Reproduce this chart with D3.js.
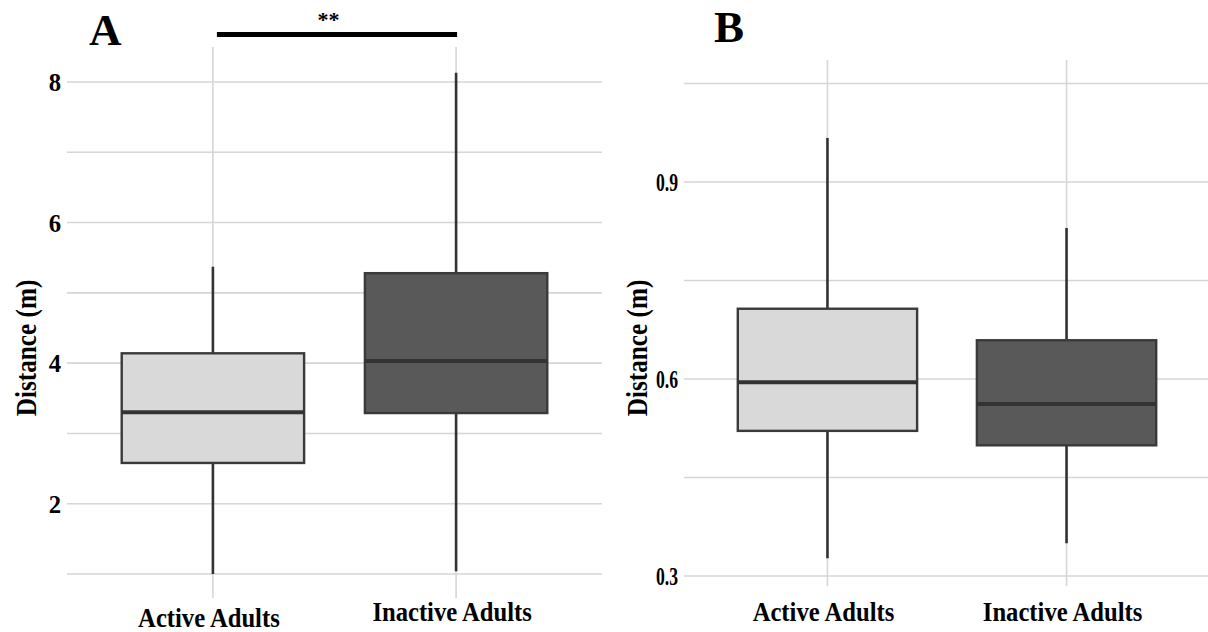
<!DOCTYPE html>
<html>
<head>
<meta charset="utf-8">
<script src="https://cdn.jsdelivr.net/npm/d3@7"></script>
<style>
  html, body { margin: 0; padding: 0; background: #ffffff; }
  svg { display: block; }
  text { font-family: "Liberation Serif", "Times New Roman", serif; font-weight: bold; fill: #000; }
</style>
</head>
<body>
<svg id="chart" width="1208" height="632"></svg>
<script>
// ---------------- data ----------------
const groups = ["Active Adults", "Inactive Adults"];
const fills = ["#d9d9d9", "#595959"];

// Panel A: distance (m) — [whiskerLow, q1, median, q3, whiskerHigh]
const panelA_low    = [1.00, 1.04];
const panelA_q1     = [2.58, 3.29];
const panelA_median = [3.30, 4.03];
const panelA_q3     = [4.14, 5.28];
const panelA_high   = [5.37, 8.13];
const panelA_ticks  = [2, 4, 6, 8];
const panelA_grid   = [1, 2, 3, 4, 5, 6, 7, 8];

// Panel B: distance (m)
const panelB_low    = [0.327, 0.350];
const panelB_q1     = [0.521, 0.499];
const panelB_median = [0.595, 0.562];
const panelB_q3     = [0.707, 0.659];
const panelB_high   = [0.967, 0.830];
const panelB_ticks  = [0.3, 0.6, 0.9];
const panelB_grid   = [0.3, 0.45, 0.6, 0.75, 0.9, 1.05];

const yTitle = "Distance (m)";
const sigLabel = "**";

// ---------------- drawing ----------------
const svg = d3.select("#chart");

function panel(cfg) {
  const g = svg.append("g");
  const x = d3.scalePoint().domain(groups).range(cfg.xRange).padding(0.6);
  const y = d3.scaleLinear().domain(cfg.yDomain).range(cfg.yRange);
  const bw = x.step() * 0.75;

  // horizontal grid
  g.selectAll("line.hg").data(cfg.grid).enter().append("line")
    .attr("x1", cfg.xRange[0]).attr("x2", cfg.gridRight)
    .attr("y1", d => y(d)).attr("y2", d => y(d))
    .attr("stroke", "#d6d6d6").attr("stroke-width", 1.6);
  // vertical grid
  g.selectAll("line.vg").data(groups).enter().append("line")
    .attr("x1", d => x(d)).attr("x2", d => x(d))
    .attr("y1", cfg.vTop).attr("y2", cfg.vBottom)
    .attr("stroke", "#d6d6d6").attr("stroke-width", 1.6);

  const stats = groups.map((k, i) => ({
    k, i, low: cfg.low[i], q1: cfg.q1[i], med: cfg.med[i], q3: cfg.q3[i], high: cfg.high[i]
  }));

  // whiskers
  g.selectAll("line.wh").data(stats).enter().append("line")
    .attr("x1", d => x(d.k)).attr("x2", d => x(d.k))
    .attr("y1", d => y(d.low)).attr("y2", d => y(d.high))
    .attr("stroke", "#333333").attr("stroke-width", 2.6);
  // boxes
  g.selectAll("rect.box").data(stats).enter().append("rect")
    .attr("x", d => x(d.k) - bw / 2).attr("width", bw)
    .attr("y", d => y(d.q3)).attr("height", d => y(d.q1) - y(d.q3))
    .attr("fill", d => fills[d.i]).attr("stroke", "#3a3a3a").attr("stroke-width", 2.4);
  // medians
  g.selectAll("line.med").data(stats).enter().append("line")
    .attr("x1", d => x(d.k) - bw / 2).attr("x2", d => x(d.k) + bw / 2)
    .attr("y1", d => y(d.med)).attr("y2", d => y(d.med))
    .attr("stroke", "#333333").attr("stroke-width", 4);

  // y tick labels
  g.selectAll("text.yt").data(cfg.ticks).enter().append("text")
    .attr("transform", d => `translate(${cfg.xRange[0] - 6},${y(d) + 9}) scale(${cfg.tickScale},1)`)
    .attr("text-anchor", "end").attr("font-size", 26)
    .text(d => cfg.tickFmt(d));

  // x labels
  g.selectAll("text.xl").data(groups).enter().append("text")
    .attr("transform", (d, i) => `translate(${x(d) - 4},${cfg.xLabelY[i]}) scale(0.88,1)`)
    .attr("text-anchor", "middle").attr("font-size", 28)
    .text(d => d);

  // y title
  g.append("text")
    .attr("transform", `translate(${cfg.titleX},348) rotate(-90) scale(0.87,1)`)
    .attr("text-anchor", "middle").attr("font-size", 29)
    .text(yTitle);

  // panel letter
  g.append("text")
    .attr("x", cfg.letterX).attr("y", cfg.letterY)
    .attr("font-size", 45)
    .text(cfg.letter);

  return { x, y };
}

const A = panel({
  xRange: [67, 602], gridRight: 602, yDomain: [1, 8], yRange: [574, 82],
  vTop: 47, vBottom: 598, grid: panelA_grid, ticks: panelA_ticks,
  low: panelA_low, q1: panelA_q1, med: panelA_median, q3: panelA_q3, high: panelA_high,
  tickScale: 0.95, tickFmt: d3.format("d"), xLabelY: [627, 621], titleX: 36,
  letter: "A", letterX: 89, letterY: 45
});

const B = panel({
  xRange: [684, 1210], gridRight: 1208, yDomain: [0.3, 0.9], yRange: [576, 182],
  vTop: 60, vBottom: 586, grid: panelB_grid, ticks: panelB_ticks,
  low: panelB_low, q1: panelB_q1, med: panelB_median, q3: panelB_q3, high: panelB_high,
  tickScale: 0.68, tickFmt: d3.format(".1f"), xLabelY: [621, 621], titleX: 647,
  letter: "B", letterX: 714, letterY: 42
});

// significance bar in panel A
const sig = svg.append("g");
sig.append("line")
  .attr("x1", A.x(groups[0]) + 4).attr("x2", A.x(groups[1]) + 1)
  .attr("y1", 34.5).attr("y2", 34.5)
  .attr("stroke", "#000").attr("stroke-width", 5);
sig.append("text")
  .attr("x", (A.x(groups[0]) + A.x(groups[1])) / 2 - 6).attr("y", 27)
  .attr("text-anchor", "middle").attr("font-size", 22)
  .text(sigLabel);
</script>
</body>
</html>
